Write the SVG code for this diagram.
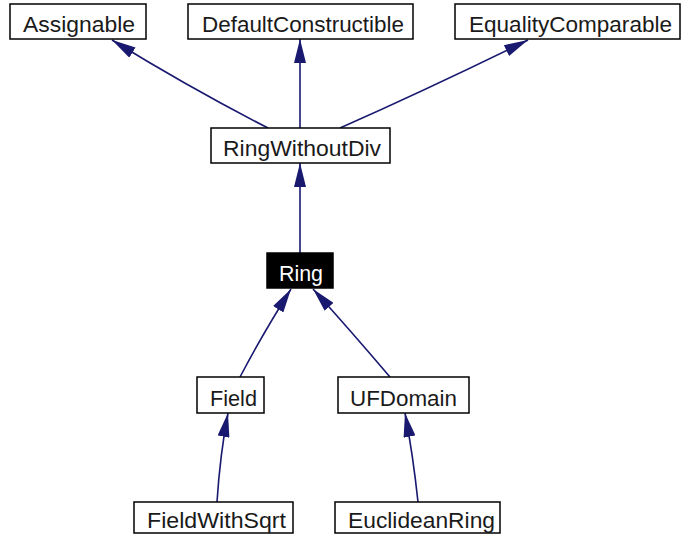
<svg xmlns="http://www.w3.org/2000/svg" width="688" height="537" viewBox="0 0 688 537">
<style>
.box{fill:#fff;stroke:#000;stroke-width:1.5}
.dark{fill:#000;stroke:#000;stroke-width:1.5}
.lbl{font-family:"Liberation Sans",Arial,sans-serif;font-size:22px;fill:#1a1a1a;text-anchor:middle}
.inv{fill:#fff}
.edge{fill:none;stroke:#191970;stroke-width:1.6}
</style>
<defs>
<marker id="ah" viewBox="0 0 24 12" refX="24" refY="6" markerWidth="24" markerHeight="12" markerUnits="userSpaceOnUse" orient="auto">
<path d="M0,0 L24,6 L0,12 Z" fill="#191970"/>
</marker>
</defs>
<g id="connectors">
<path class="edge" d="M268,128 Q190,88 112,40" marker-end="url(#ah)"/>
<path class="edge" d="M300,128 L300,39" marker-end="url(#ah)"/>
<path class="edge" d="M340,128 Q430,88 528,40" marker-end="url(#ah)"/>
<path class="edge" d="M300,253 L300,163" marker-end="url(#ah)"/>
<path class="edge" d="M240,377 Q262,335 291,289" marker-end="url(#ah)"/>
<path class="edge" d="M390,377 Q350,330 313,289" marker-end="url(#ah)"/>
<path class="edge" d="M217,502 Q220,455 228,413" marker-end="url(#ah)"/>
<path class="edge" d="M418,502 Q413,455 405,413" marker-end="url(#ah)"/>
</g>
<g id="Assignable"><rect class="box" x="10" y="4" width="136" height="35"/><text class="lbl" x="79" y="32" textLength="112" lengthAdjust="spacingAndGlyphs">Assignable</text></g>
<g id="DefaultConstructible"><rect class="box" x="188" y="4" width="225" height="35"/><text class="lbl" x="303" y="32" textLength="202" lengthAdjust="spacingAndGlyphs">DefaultConstructible</text></g>
<g id="EqualityComparable"><rect class="box" x="455" y="4" width="225" height="35"/><text class="lbl" x="570.5" y="32" textLength="203" lengthAdjust="spacingAndGlyphs">EqualityComparable</text></g>
<g id="RingWithoutDiv"><rect class="box" x="211" y="128" width="179" height="35"/><text class="lbl" x="302" y="156" textLength="158" lengthAdjust="spacingAndGlyphs">RingWithoutDiv</text></g>
<g id="Ring"><rect class="dark" x="267" y="253" width="66" height="35"/><text class="lbl inv" x="301" y="281" textLength="44" lengthAdjust="spacingAndGlyphs">Ring</text></g>
<g id="Field"><rect class="box" x="197" y="377" width="67" height="36"/><text class="lbl" x="233.5" y="406" textLength="47" lengthAdjust="spacingAndGlyphs">Field</text></g>
<g id="UFDomain"><rect class="box" x="338" y="377" width="131" height="36"/><text class="lbl" x="403.5" y="406" textLength="107" lengthAdjust="spacingAndGlyphs">UFDomain</text></g>
<g id="FieldWithSqrt"><rect class="box" x="134" y="502" width="159" height="31"/><text class="lbl" x="216.5" y="528" textLength="139" lengthAdjust="spacingAndGlyphs">FieldWithSqrt</text></g>
<g id="EuclideanRing"><rect class="box" x="335" y="502" width="165" height="31"/><text class="lbl" x="421.5" y="528" textLength="147" lengthAdjust="spacingAndGlyphs">EuclideanRing</text></g>
</svg>
